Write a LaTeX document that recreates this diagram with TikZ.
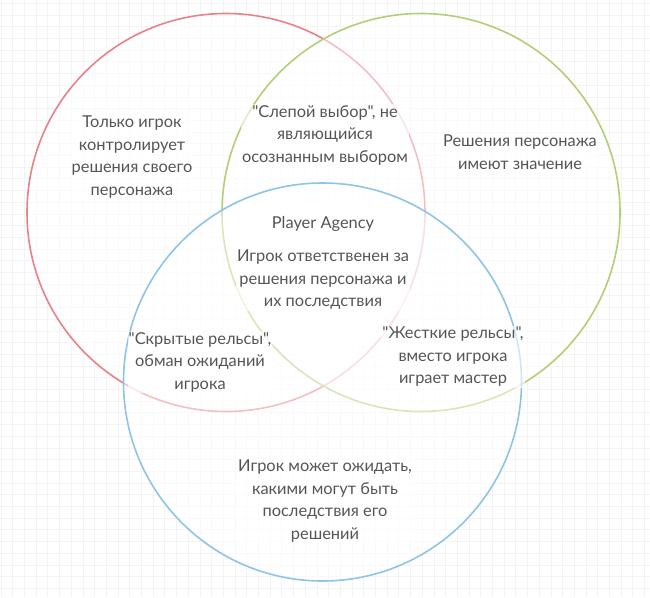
\documentclass[tikz,border=0pt]{standalone}
\usepackage{fontspec}
\newfontfamily\vennfont{Lato}
\usetikzlibrary{positioning}
\definecolor{vennred}{RGB}{234,128,138}
\definecolor{venngreen}{RGB}{180,206,120}
\definecolor{vennblue}{RGB}{142,196,232}
\definecolor{venntext}{RGB}{85,85,85}
\definecolor{gridgray}{RGB}{243,243,243}

\begin{document}
\begin{tikzpicture}[x=1pt,y=-1pt,node distance=56pt,
    set/.style={circle,minimum size=398pt,line width=1.6pt,fill=white,fill opacity=0.5,inner sep=0pt},
    txt/.style={align=center,text=venntext,font=\vennfont\fontsize{16.4}{22.5}\selectfont,fill=white,fill opacity=0.6,text opacity=1,inner sep=1pt}]
    \useasboundingbox (0,0) rectangle (650,597);
    \fill[white] (0,0) rectangle (650,597);
    % background grid
    \foreach \i in {0,...,55}
        \draw[gridgray,line width=0.7pt] (\i*11.7+1,0) -- (\i*11.7+1,597);
    \foreach \i in {0,...,51}
        \draw[gridgray,line width=0.7pt] (0,\i*11.7+3.3) -- (650,\i*11.7+3.3);
    % the three sets
    \node[set,draw=vennred]   (R) at (226,212.5) {};
    \node[set,draw=venngreen] (G) at (421,212.5) {};
    \node[set,draw=vennblue]  (B) at (322.5,382) {};
    % texts
    \node[txt] (red)       at (132,157) {Только игрок\\контролирует\\решения своего\\персонажа};
    \node[txt] (redgreen)  at (325,135) {"Слепой выбор", не\\являющийся\\осознанным выбором};
    \node[txt] (green)     at (520,152) {Решения персонажа\\имеют значение};
    \node[txt] (agency)    at (323,224) {Player Agency};
    \node[txt] (all)       [below of=agency] {Игрок ответственен за\\решения персонажа и\\их последствия};
    \node[txt] (redblue)   at (200,362) {"Скрытые рельсы",\\обман ожиданий\\игрока};
    \node[txt] (greenblue) at (453,357) {"Жесткие рельсы",\\вместо игрока\\играет мастер};
    \node[txt] (blue)      at (325,501) {Игрок может ожидать,\\какими могут быть\\последствия его\\решений};
\end{tikzpicture}
\end{document}
